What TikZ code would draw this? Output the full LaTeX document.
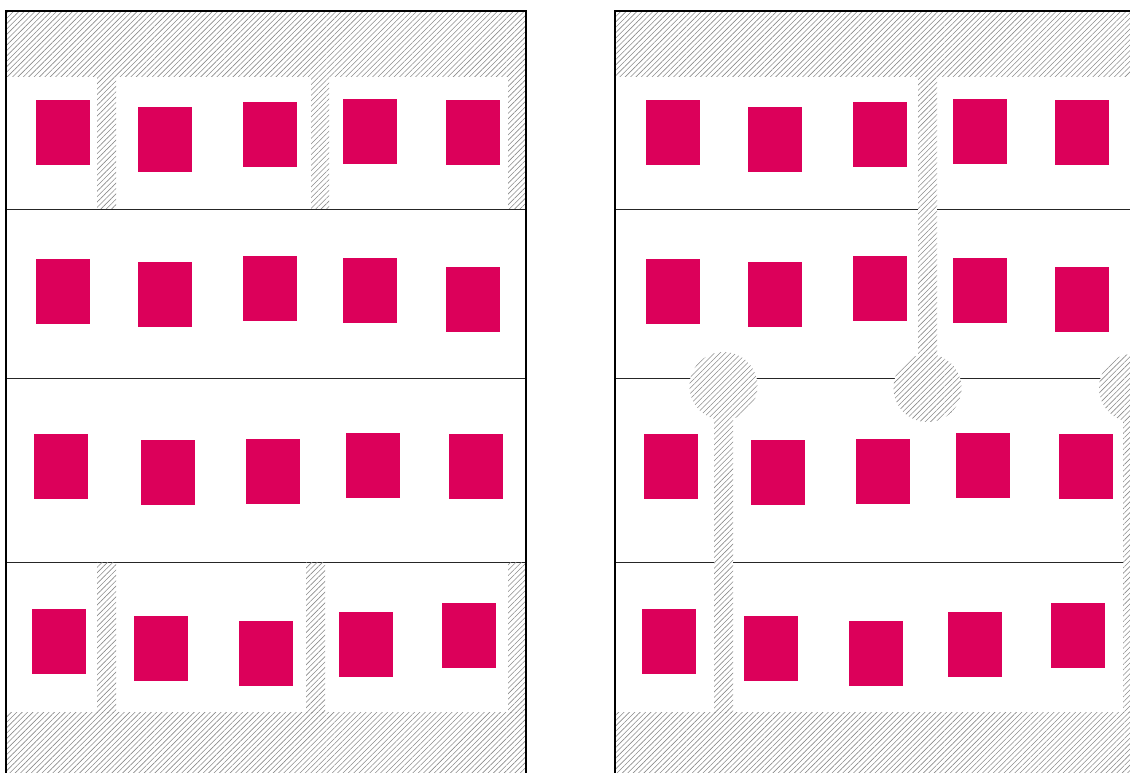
\documentclass[tikz,border=0pt]{standalone}
\usetikzlibrary{patterns.meta}
\definecolor{mag}{RGB}{220,0,90}
\begin{document}
\begin{tikzpicture}[x=1pt,y=-1pt,
  hatch/.style={fill=white, postaction={pattern={Lines[angle=45,distance=3.8pt,line width=0.6pt]}, pattern color=black!45}},
  wall/.style={line width=2.3pt, black},
  sep/.style={line width=0.9pt, black!85},
  room/.style={fill=mag}]
\useasboundingbox (0,0) rectangle (1130,772);
\clip (0,0) rectangle (1130,772);
% ---------- left panel ----------
\foreach \yy in {209,378,562} \draw[sep] (6,\yy) -- (526,\yy);
\fill[hatch] (6,11) rectangle (526,76);
\fill[hatch] (6,712) rectangle (526,772);
\fill[hatch] (97,76) rectangle (116,208.5);
\fill[hatch] (311,76) rectangle (329,208.5);
\fill[hatch] (508,76) rectangle (526,208.5);
\fill[hatch] (97,562.5) rectangle (116,712);
\fill[hatch] (306,562.5) rectangle (325,712);
\fill[hatch] (508,562.5) rectangle (526,712);
% ---------- right panel ----------
\foreach \yy in {209,378,562} \draw[sep] (615,\yy) -- (1135,\yy);
\fill[hatch] (615,11) rectangle (1140,76);
\fill[hatch] (615,712) rectangle (1140,772);
\fill[hatch] (918,76) rectangle (937,388);
\fill[hatch] (927.5,388) circle (34);
\fill[hatch] (723.5,386) circle (34);
\fill[hatch] (714,386) rectangle (733,712);
\fill[hatch] (1133,388) circle (34);
\fill[hatch] (1123,388) rectangle (1143,712);
% ---------- rooms ----------
\foreach \x/\y in {36/100,138/107,243/102,343/99,446/100,
                   36/259,138/262,243/256,343/258,446/267,
                   34/434,141/440,246/439,346/433,449/434,
                   32/609,134/616,239/621,339/612,442/603}
  \fill[room] (\x,\y) rectangle ++(54,65);
\foreach \x/\y in {646/100,748/107,853/102,953/99,1055/100,
                   646/259,748/262,853/256,953/258,1055/267,
                   644/434,751/440,856/439,956/433,1059/434,
                   642/609,744/616,849/621,948/612,1051/603}
  \fill[room] (\x,\y) rectangle ++(54,65);
% ---------- walls ----------
\draw[wall] (6,780) -- (6,11) -- (526,11) -- (526,780);
\draw[wall] (615,780) -- (615,11) -- (1140,11);
\end{tikzpicture}
\end{document}
